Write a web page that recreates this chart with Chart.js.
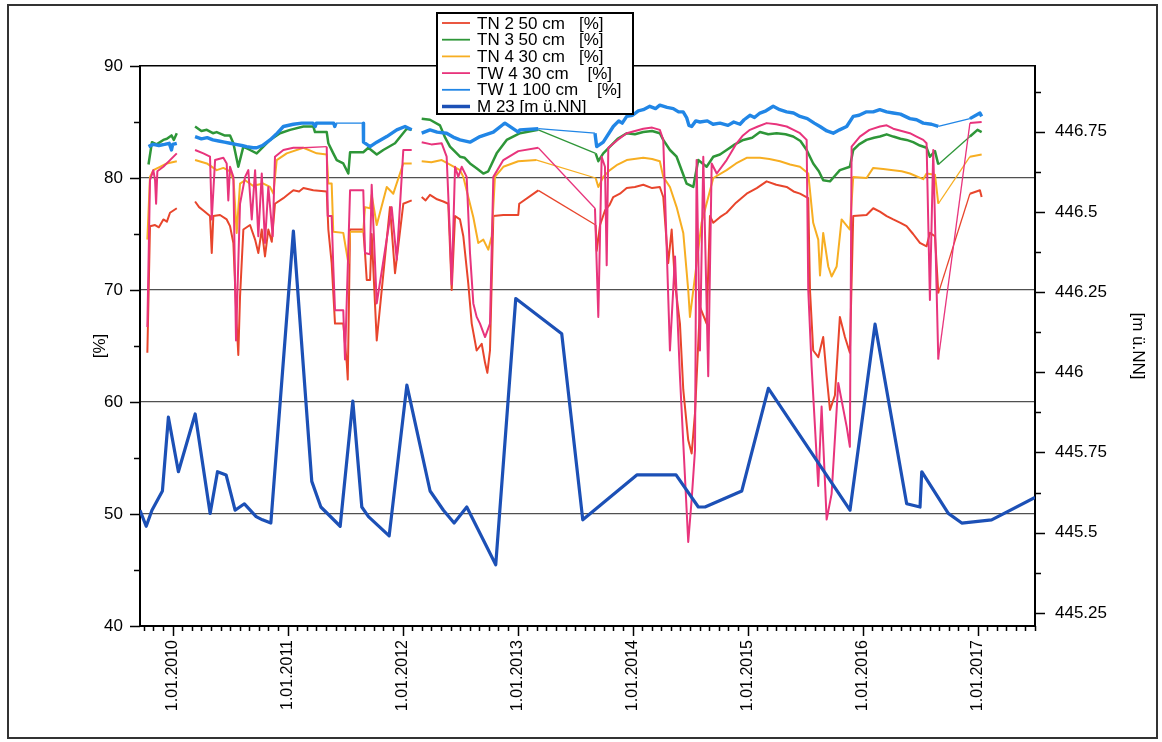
<!DOCTYPE html>
<html>
<head>
<meta charset="utf-8">
<script src="https://cdn.jsdelivr.net/npm/chart.js@4.4.1/dist/chart.umd.min.js"></script>
<style>
  html, body { margin: 0; padding: 0; background: #fff; }
  #wrap { width: 1162px; height: 742px; }
</style>
</head>
<body>
<div id="wrap"><canvas id="chart" width="1162" height="742"></canvas></div>
<script>
// x values are decimal years, y values in % (left axis) or m ü.NN (right axis)
const years = [2010, 2011, 2012, 2013, 2014, 2015, 2016, 2017];
const pctTicks = [40, 50, 60, 70, 80, 90];
const levelTicks = [445.25, 445.5, 445.75, 446, 446.25, 446.5, 446.75];

const tn2 = [
  [2009.780, 64.4], [2009.803, 75.7], [2009.847, 75.8], [2009.880, 75.6], [2009.919, 76.3], [2009.950, 76.1],
  [2009.977, 76.9], [2010.036, 77.3],
  [2010.1, null],
  [2010.195, 77.9], [2010.230, 77.4], [2010.267, 77.1], [2010.325, 76.6], [2010.340, 73.3], [2010.354, 76.6],
  [2010.412, 76.7], [2010.470, 76.3], [2010.499, 75.7], [2010.528, 74.2], [2010.557, 67.0], [2010.571, 64.2],
  [2010.586, 69.4], [2010.615, 75.4], [2010.673, 75.8], [2010.717, 74.5], [2010.745, 73.3], [2010.775, 75.4],
  [2010.803, 73.0], [2010.832, 75.4], [2010.862, 74.3], [2010.890, 77.7], [2010.963, 78.2], [2011.000, 78.5],
  [2011.050, 78.9], [2011.100, 78.8], [2011.137, 79.1], [2011.223, 78.9], [2011.340, 78.8], [2011.354, 75.4],
  [2011.383, 72.4], [2011.412, 67.0], [2011.484, 67.0], [2011.514, 63.5], [2011.523, 62.0], [2011.543, 75.4],
  [2011.658, 75.4], [2011.673, 73.3], [2011.688, 70.9], [2011.717, 70.9], [2011.731, 75.0], [2011.775, 65.5],
  [2011.890, 77.4], [2011.934, 71.5], [2012.006, 77.7], [2012.079, 78.0],
  [2012.12, null],
  [2012.166, 78.3], [2012.200, 78.0], [2012.238, 78.5], [2012.300, 78.1], [2012.354, 77.9], [2012.397, 77.7],
  [2012.427, 70.0], [2012.456, 76.6], [2012.499, 76.3], [2012.528, 74.8], [2012.571, 70.6], [2012.601, 67.0],
  [2012.644, 64.6], [2012.688, 65.2], [2012.717, 63.5], [2012.737, 62.6], [2012.760, 64.6], [2012.789, 76.6],
  [2012.876, 76.7], [2013.006, 76.7], [2013.014, 77.7], [2013.180, 78.9], [2013.679, 75.8], [2013.688, 73.5],
  [2013.717, 75.8], [2013.760, 77.1], [2013.800, 77.6], [2013.832, 78.3], [2013.890, 78.6], [2013.949, 79.1],
  [2014.020, 79.2], [2014.093, 79.4], [2014.170, 79.1], [2014.237, 79.2], [2014.267, 78.3], [2014.310, 72.4],
  [2014.340, 75.4], [2014.369, 70.6], [2014.412, 67.0], [2014.441, 61.1], [2014.484, 56.6], [2014.514, 55.4],
  [2014.543, 59.0], [2014.586, 68.5], [2014.644, 67.0], [2014.673, 76.6], [2014.702, 76.0], [2014.760, 76.5],
  [2014.818, 76.9], [2014.900, 77.8], [2014.992, 78.6], [2015.080, 79.1], [2015.166, 79.7], [2015.250, 79.4],
  [2015.340, 79.2], [2015.400, 78.8], [2015.456, 78.6], [2015.528, 78.2], [2015.543, 70.0], [2015.571, 64.6],
  [2015.615, 64.0], [2015.658, 65.8], [2015.688, 62.3], [2015.717, 59.3], [2015.760, 60.6], [2015.803, 67.6],
  [2015.847, 65.8], [2015.890, 64.4], [2015.919, 76.6], [2016.035, 76.7], [2016.093, 77.3], [2016.151, 77.0],
  [2016.210, 76.6], [2016.267, 76.3], [2016.330, 76.0], [2016.383, 75.7], [2016.440, 75.0], [2016.499, 74.2],
  [2016.557, 73.9], [2016.586, 75.1], [2016.630, 74.8], [2016.659, 69.7], [2016.934, 78.6], [2017.021, 78.9],
  [2017.036, 78.3]
];

const tn3 = [
  [2009.790, 81.2], [2009.820, 83.2], [2009.860, 83.0], [2009.919, 83.4], [2009.950, 83.5], [2009.990, 83.8],
  [2010.010, 83.4], [2010.036, 84.0],
  [2010.1, null],
  [2010.195, 84.6], [2010.250, 84.2], [2010.297, 84.3], [2010.350, 84.0], [2010.383, 84.1], [2010.450, 83.8],
  [2010.499, 83.8], [2010.528, 83.1], [2010.571, 81.0], [2010.615, 82.8], [2010.673, 82.5], [2010.731, 82.2],
  [2010.789, 82.8], [2010.847, 83.4], [2010.934, 84.0], [2011.021, 84.3], [2011.137, 84.6], [2011.223, 84.6],
  [2011.238, 84.1], [2011.340, 84.1], [2011.354, 83.1], [2011.397, 82.2], [2011.427, 81.6], [2011.484, 81.3],
  [2011.528, 80.4], [2011.543, 82.3], [2011.658, 82.3], [2011.702, 82.7], [2011.775, 82.1], [2011.832, 82.5],
  [2011.934, 83.1], [2012.036, 84.4], [2012.079, 84.3],
  [2012.12, null],
  [2012.166, 85.3], [2012.238, 85.2], [2012.325, 84.7], [2012.370, 83.6], [2012.412, 82.8], [2012.460, 82.3],
  [2012.499, 81.9], [2012.540, 81.8], [2012.586, 81.3], [2012.640, 80.9], [2012.702, 80.4], [2012.745, 80.6],
  [2012.818, 82.2], [2012.905, 83.4], [2013.021, 84.0], [2013.180, 84.3], [2013.679, 82.2], [2013.702, 81.5],
  [2013.745, 82.2], [2013.803, 82.8], [2013.870, 83.5], [2013.949, 84.0], [2014.020, 83.9], [2014.093, 84.1],
  [2014.170, 84.2], [2014.237, 84.0], [2014.267, 83.4], [2014.325, 82.5], [2014.383, 81.9], [2014.430, 80.6],
  [2014.470, 79.5], [2014.528, 79.2], [2014.571, 81.6], [2014.644, 81.0], [2014.702, 81.9], [2014.760, 82.1],
  [2014.818, 82.5], [2014.890, 83.0], [2014.963, 83.4], [2015.040, 83.6], [2015.108, 84.1], [2015.180, 83.9],
  [2015.253, 84.0], [2015.330, 83.9], [2015.397, 83.7], [2015.460, 83.3], [2015.514, 82.5], [2015.571, 81.3],
  [2015.620, 80.6], [2015.658, 79.8], [2015.717, 79.7], [2015.760, 80.2], [2015.803, 80.7], [2015.890, 81.0],
  [2015.919, 82.5], [2015.970, 83.0], [2016.035, 83.4], [2016.100, 83.6], [2016.151, 83.7], [2016.210, 83.9],
  [2016.267, 83.7], [2016.330, 83.5], [2016.383, 83.4], [2016.440, 83.2], [2016.499, 82.9], [2016.557, 82.7],
  [2016.586, 81.9], [2016.630, 82.4], [2016.659, 81.2], [2016.934, 83.7], [2017.000, 84.3], [2017.036, 84.1]
];

const tn4 = [
  [2009.780, 74.5], [2009.803, 80.1], [2009.832, 80.7], [2009.890, 81.0], [2009.949, 81.3], [2010.036, 81.5],
  [2010.1, null],
  [2010.195, 81.6], [2010.297, 81.3], [2010.383, 80.7], [2010.441, 80.9], [2010.499, 80.6], [2010.530, 79.8],
  [2010.557, 75.1], [2010.586, 79.5], [2010.630, 79.8], [2010.700, 79.3], [2010.789, 79.5], [2010.847, 79.2],
  [2010.876, 78.6], [2010.905, 81.6], [2010.992, 82.2], [2011.137, 82.7], [2011.253, 82.2], [2011.340, 82.1],
  [2011.354, 79.5], [2011.383, 79.5], [2011.397, 75.2], [2011.484, 75.1], [2011.528, 72.4], [2011.543, 75.2],
  [2011.658, 75.2], [2011.673, 77.4], [2011.717, 77.3], [2011.731, 78.5], [2011.775, 75.8], [2011.862, 79.2],
  [2011.919, 78.6], [2012.006, 81.3], [2012.079, 81.3],
  [2012.12, null],
  [2012.166, 81.5], [2012.250, 81.4], [2012.340, 81.6], [2012.412, 81.2], [2012.499, 80.7], [2012.528, 80.1],
  [2012.571, 78.3], [2012.615, 76.5], [2012.658, 74.2], [2012.702, 74.5], [2012.745, 73.6], [2012.775, 74.8],
  [2012.803, 80.1], [2012.876, 81.0], [2013.006, 81.5], [2013.166, 81.6], [2013.679, 80.0], [2013.702, 79.2],
  [2013.745, 80.1], [2013.803, 80.7], [2013.870, 81.2], [2013.949, 81.6], [2014.093, 81.8], [2014.170, 81.7],
  [2014.237, 81.5], [2014.267, 80.1], [2014.325, 79.2], [2014.383, 77.4], [2014.441, 75.1], [2014.484, 70.0],
  [2014.499, 67.6], [2014.543, 71.2], [2014.600, 76.0], [2014.702, 80.0], [2014.818, 80.7], [2014.900, 81.3],
  [2014.992, 81.8], [2015.108, 81.8], [2015.190, 81.7], [2015.282, 81.5], [2015.370, 81.2], [2015.456, 81.0],
  [2015.528, 80.4], [2015.571, 76.0], [2015.615, 74.5], [2015.630, 71.3], [2015.658, 75.1], [2015.702, 72.1],
  [2015.731, 71.2], [2015.775, 72.1], [2015.818, 76.3], [2015.890, 75.4], [2015.919, 80.1], [2016.035, 80.0],
  [2016.093, 80.9], [2016.180, 80.8], [2016.267, 80.7], [2016.340, 80.6], [2016.412, 80.4], [2016.528, 79.9],
  [2016.557, 80.4], [2016.630, 80.3], [2016.659, 77.7], [2016.934, 81.9], [2017.036, 82.1]
];

const tw4 = [
  [2009.780, 66.7], [2009.803, 79.8], [2009.832, 80.7], [2009.847, 79.8], [2009.856, 77.7], [2009.867, 80.6],
  [2009.919, 81.0], [2009.977, 81.6], [2010.036, 82.2],
  [2010.1, null],
  [2010.195, 82.5], [2010.267, 82.2], [2010.325, 81.9], [2010.340, 76.3], [2010.369, 81.6], [2010.441, 81.8],
  [2010.470, 81.3], [2010.484, 78.0], [2010.499, 81.0], [2010.528, 80.1], [2010.551, 65.5], [2010.586, 77.7],
  [2010.630, 80.1], [2010.658, 80.7], [2010.688, 76.3], [2010.717, 80.7], [2010.745, 74.8], [2010.775, 80.4],
  [2010.803, 74.2], [2010.832, 79.2], [2010.870, 74.8], [2010.890, 81.9], [2010.963, 82.5], [2011.050, 82.7],
  [2011.137, 82.7], [2011.340, 82.8], [2011.349, 76.6], [2011.383, 76.6], [2011.397, 72.1], [2011.412, 68.2],
  [2011.484, 68.2], [2011.499, 63.8], [2011.543, 78.9], [2011.658, 78.9], [2011.673, 73.3], [2011.717, 73.2],
  [2011.731, 79.4], [2011.775, 68.8], [2011.905, 77.4], [2011.949, 72.7], [2012.006, 82.5], [2012.079, 82.5],
  [2012.12, null],
  [2012.166, 83.2], [2012.250, 83.0], [2012.340, 83.1], [2012.383, 81.9], [2012.412, 74.8], [2012.427, 70.5],
  [2012.456, 81.0], [2012.484, 80.1], [2012.514, 81.0], [2012.557, 80.1], [2012.586, 73.3], [2012.615, 68.8],
  [2012.644, 67.6], [2012.673, 67.0], [2012.717, 65.8], [2012.760, 67.0], [2012.789, 80.1], [2012.876, 81.6],
  [2013.006, 82.4], [2013.180, 82.7], [2013.673, 77.3], [2013.702, 67.6], [2013.731, 81.9], [2013.760, 81.0],
  [2013.775, 72.2], [2013.789, 82.7], [2013.870, 83.4], [2013.949, 84.0], [2014.093, 84.4], [2014.170, 84.5],
  [2014.237, 84.3], [2014.267, 83.4], [2014.325, 64.6], [2014.369, 73.0], [2014.412, 62.3], [2014.484, 47.5],
  [2014.514, 51.3], [2014.543, 55.7], [2014.557, 81.6], [2014.586, 64.6], [2014.615, 81.9], [2014.658, 62.3],
  [2014.688, 81.3], [2014.732, 80.4], [2014.818, 81.6], [2014.905, 83.1], [2014.960, 83.8], [2015.021, 84.3],
  [2015.090, 84.6], [2015.166, 84.9], [2015.250, 84.8], [2015.340, 84.6], [2015.400, 84.3], [2015.456, 84.0],
  [2015.514, 83.4], [2015.528, 70.0], [2015.557, 63.2], [2015.615, 52.5], [2015.644, 59.6], [2015.688, 49.5],
  [2015.731, 51.8], [2015.789, 61.7], [2015.862, 57.8], [2015.890, 56.0], [2015.905, 82.8], [2015.977, 83.7],
  [2016.060, 84.3], [2016.151, 84.6], [2016.210, 84.7], [2016.267, 84.4], [2016.340, 84.2], [2016.412, 84.0],
  [2016.470, 83.7], [2016.528, 83.4], [2016.557, 83.1], [2016.586, 69.1], [2016.615, 82.5], [2016.659, 63.8],
  [2016.934, 84.9], [2017.036, 85.0]
];

const tw1 = [
  [2009.790, 82.8], [2009.830, 83.0], [2009.880, 82.9], [2009.930, 83.0], [2009.970, 83.1], [2009.990, 82.5],
  [2010.000, 83.0], [2010.036, 83.1],
  [2010.1, null],
  [2010.195, 83.7], [2010.250, 83.5], [2010.300, 83.6], [2010.350, 83.4], [2010.400, 83.3], [2010.450, 83.2],
  [2010.500, 83.1], [2010.550, 83.0], [2010.600, 82.9], [2010.644, 82.8], [2010.700, 82.7], [2010.731, 82.7],
  [2010.780, 82.9], [2010.847, 83.4], [2010.900, 83.9], [2010.963, 84.6], [2011.050, 84.8], [2011.123, 84.9],
  [2011.140, 84.9], [2011.220, 84.9], [2011.240, 84.6], [2011.250, 84.9], [2011.400, 84.9], [2011.410, 84.6],
  [2011.420, 84.9], [2011.658, 84.9], [2011.660, 83.2], [2011.717, 82.8], [2011.775, 83.2], [2011.862, 83.7],
  [2011.949, 84.3], [2012.021, 84.6], [2012.079, 84.3],
  [2012.12, null],
  [2012.166, 84.0], [2012.238, 84.3], [2012.300, 84.1], [2012.383, 84.0], [2012.450, 83.6], [2012.499, 83.4],
  [2012.586, 83.2], [2012.673, 83.7], [2012.789, 84.1], [2012.876, 84.8], [2012.890, 84.9], [2013.006, 84.1],
  [2013.020, 84.3], [2013.180, 84.4], [2013.673, 84.0], [2013.688, 82.8], [2013.745, 83.2], [2013.832, 84.6],
  [2013.880, 85.1], [2013.910, 84.9], [2013.949, 85.5], [2014.000, 85.6], [2014.050, 86.0], [2014.093, 86.1],
  [2014.150, 86.4], [2014.200, 86.2], [2014.237, 86.5], [2014.300, 86.3], [2014.354, 86.2], [2014.400, 85.9],
  [2014.440, 85.9], [2014.470, 85.4], [2014.490, 84.7], [2014.514, 84.6], [2014.550, 85.1], [2014.586, 85.0],
  [2014.650, 85.1], [2014.700, 84.8], [2014.760, 84.9], [2014.830, 84.7], [2014.880, 85.0], [2014.934, 84.8],
  [2014.970, 85.2], [2015.021, 85.6], [2015.060, 85.4], [2015.108, 85.8], [2015.160, 86.0], [2015.223, 86.4],
  [2015.280, 86.1], [2015.340, 85.9], [2015.400, 85.8], [2015.456, 85.5], [2015.520, 85.3], [2015.580, 84.9],
  [2015.630, 84.6], [2015.690, 84.2], [2015.745, 84.0], [2015.800, 84.3], [2015.862, 84.6], [2015.919, 85.5],
  [2015.970, 85.6], [2016.030, 85.9], [2016.093, 85.9], [2016.150, 86.1], [2016.210, 85.9], [2016.267, 85.8],
  [2016.330, 85.7], [2016.412, 85.3], [2016.470, 85.2], [2016.528, 84.9], [2016.600, 84.8], [2016.659, 84.6],
  [2016.934, 85.3], [2017.021, 85.8], [2017.036, 85.5]
];

const m23 = [
  [2009.716, 445.57], [2009.770, 445.52], [2009.820, 445.57], [2009.911, 445.63], [2009.963, 445.86],
  [2010.050, 445.69], [2010.196, 445.87], [2010.326, 445.56], [2010.390, 445.69], [2010.465, 445.68],
  [2010.543, 445.57], [2010.624, 445.59], [2010.726, 445.55], [2010.781, 445.54], [2010.854, 445.53],
  [2011.050, 446.44], [2011.210, 445.66], [2011.289, 445.58], [2011.457, 445.52], [2011.567, 445.91],
  [2011.645, 445.58], [2011.703, 445.55], [2011.883, 445.49], [2012.037, 445.96], [2012.239, 445.63],
  [2012.355, 445.57], [2012.448, 445.53], [2012.558, 445.58], [2012.810, 445.40], [2012.984, 446.23],
  [2013.384, 446.12], [2013.567, 445.54], [2014.037, 445.68], [2014.378, 445.68], [2014.572, 445.58],
  [2014.630, 445.58], [2014.950, 445.63], [2015.181, 445.95], [2015.891, 445.57], [2016.109, 446.15],
  [2016.384, 445.59], [2016.500, 445.58], [2016.515, 445.69], [2016.746, 445.56], [2016.863, 445.53],
  [2017.123, 445.54], [2017.500, 445.61]
];

const toPoints = arr => arr.map(([x, y]) => ({ x, y }));

// long connecting segments (sparse readings) are drawn thin, dense logger data thicker
const thinGaps = { borderWidth: (c) => (c.p1.parsed.x - c.p0.parsed.x > 0.2 ? 1.3 : undefined) };

const datasets = [
  { label: "TN 2 50 cm   [%]", data: toPoints(tn2), borderColor: "#e8452c", borderWidth: 2, segment: thinGaps, yAxisID: "y", order: 4 },
  { label: "TN 3 50 cm   [%]", data: toPoints(tn3), borderColor: "#2e9638", borderWidth: 2.5, segment: thinGaps, yAxisID: "y", order: 5 },
  { label: "TN 4 30 cm   [%]", data: toPoints(tn4), borderColor: "#f7ae22", borderWidth: 2, segment: thinGaps, yAxisID: "y", order: 3 },
  { label: "TW 4 30 cm    [%]", data: toPoints(tw4), borderColor: "#e8347c", borderWidth: 2, segment: thinGaps, yAxisID: "y", order: 2 },
  { label: "TW 1 100 cm    [%]", data: toPoints(tw1), borderColor: "#2186e6", borderWidth: 3.4, segment: thinGaps, yAxisID: "y", order: 1 },
  { label: "M 23 [m ü.NN]", data: toPoints(m23), borderColor: "#1c50b6", borderWidth: 3.2, yAxisID: "y1", order: 0 },
];

Chart.defaults.font.family = "'Liberation Sans', Arial, sans-serif";
Chart.defaults.color = "#000";

const decor = {
  id: "decor",
  beforeDraw(chart) {
    const { ctx } = chart;
    ctx.save();
    ctx.fillStyle = "#fff";
    ctx.fillRect(0, 0, chart.width, chart.height);
    ctx.strokeStyle = "#333";
    ctx.lineWidth = 2;
    ctx.strokeRect(8, 5, 1149, 733);
    ctx.restore();
  },
  afterDraw(chart) {
    const { ctx } = chart;
    const { x, y, y1 } = chart.scales;
    ctx.save();
    ctx.strokeStyle = "#000";
    ctx.lineWidth = 1.5;
    ctx.beginPath();
    // monthly ticks, long ones on 1 January
    for (let yr = 2009; yr <= 2017; yr++) {
      for (let m = 0; m < 12; m++) {
        const v = yr + m / 12;
        if (v < x.min || v > x.max) continue;
        const px = Math.round(x.getPixelForValue(v)) + 0.5;
        ctx.moveTo(px, x.top);
        ctx.lineTo(px, x.top + (m === 0 ? 10 : 5));
      }
    }
    for (let v = 40; v <= 90; v += 5) {
      const py = Math.round(y.getPixelForValue(v)) + 0.5;
      ctx.moveTo(y.right, py);
      ctx.lineTo(y.right - (v % 10 === 0 ? 10 : 6), py);
    }
    for (let v = 445.25; v <= 446.95; v += 0.125) {
      const py = Math.round(y1.getPixelForValue(v)) + 0.5;
      ctx.moveTo(y1.left, py);
      ctx.lineTo(y1.left + (Math.abs(v * 4 - Math.round(v * 4)) < 1e-6 ? 10 : 6), py);
    }
    ctx.stroke();

    // legend box
    const bx = 437, by = 13, bw = 196, bh = 101;
    ctx.fillStyle = "#fff";
    ctx.fillRect(bx, by, bw, bh);
    ctx.lineWidth = 2;
    ctx.strokeRect(bx, by, bw, bh);
    ctx.font = "17px 'Liberation Sans', Arial, sans-serif";
    ctx.textBaseline = "middle";
    ctx.fillStyle = "#000";
    chart.data.datasets.forEach((ds, i) => {
      const ry = by + 10 + i * 16.7;
      ctx.strokeStyle = ds.borderColor;
      ctx.lineWidth = i === 5 ? 3.5 : 1.8;
      ctx.beginPath();
      ctx.moveTo(bx + 5, ry);
      ctx.lineTo(bx + 33, ry);
      ctx.stroke();
      ctx.fillText(ds.label, bx + 40, ry + 1);
    });
    ctx.restore();
  }
};

new Chart(document.getElementById("chart"), {
  type: "line",
  data: { datasets },
  options: {
    responsive: false,
    animation: false,
    spanGaps: false,
    layout: { padding: { top: 66, left: 0, right: 0, bottom: 0 } },
    elements: {
      point: { radius: 0 },
      line: { tension: 0, borderJoinStyle: "round", fill: false },
    },
    plugins: {
      legend: { display: false },
      tooltip: { enabled: false },
    },
    scales: {
      x: {
        type: "linear",
        min: 2009.716,
        max: 2017.5,
        afterBuildTicks: (s) => { s.ticks = years.map((v) => ({ value: v })); },
        afterFit: (s) => { s.height = 116; },
        grid: { display: false, drawTicks: false },
        border: { display: true, color: "#000", width: 2 },
        ticks: {
          autoSkip: false,
          minRotation: 90,
          maxRotation: 90,
          padding: 14,
          font: { size: 16 },
          callback: (v) => "1.01." + v,
        },
      },
      y: {
        position: "left",
        min: 40,
        max: 90,
        afterBuildTicks: (s) => { s.ticks = pctTicks.map((v) => ({ value: v })); },
        afterFit: (s) => { s.width = 140; },
        grid: {
          drawTicks: false,
          color: (c) => (c.tick.value === 90 ? "#000" : c.tick.value === 40 ? "rgba(0,0,0,0)" : "#505050"),
          lineWidth: (c) => (c.tick.value === 90 ? 1.5 : 1.2),
        },
        border: { display: true, color: "#000", width: 2 },
        ticks: { padding: 17, font: { size: 17 } },
        title: { display: true, text: "[%]", font: { size: 17 }, padding: { top: 90, bottom: 0 } },
      },
      y1: {
        position: "right",
        min: 445.209,
        max: 446.955,
        afterBuildTicks: (s) => { s.ticks = levelTicks.map((v) => ({ value: v })); },
        afterFit: (s) => { s.width = 127; },
        grid: { display: false, drawTicks: false },
        border: { display: true, color: "#000", width: 2 },
        ticks: { padding: 20, font: { size: 17 }, callback: (v) => String(v) },
        title: { display: true, text: "[m ü.NN]", font: { size: 17 }, padding: { top: 14, bottom: 0 } },
      },
    },
  },
  plugins: [decor],
});
</script>
</body>
</html>
